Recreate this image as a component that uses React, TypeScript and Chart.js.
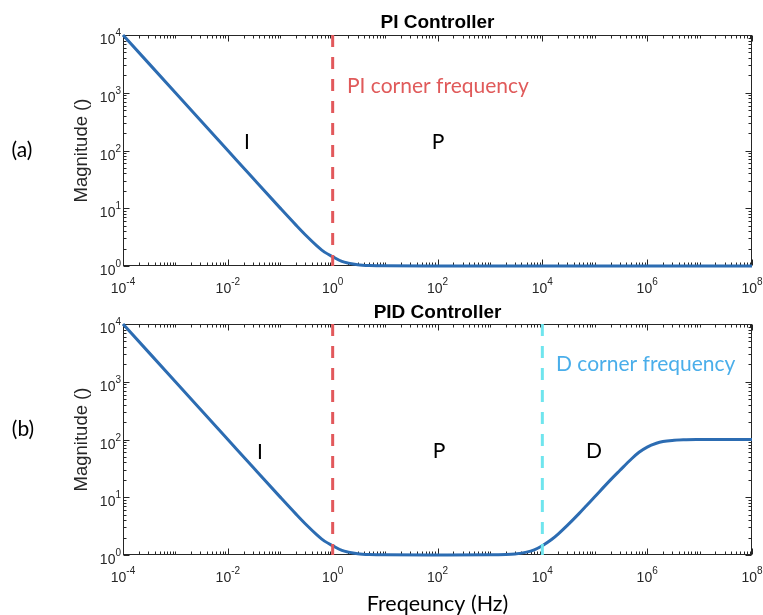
import React, { useEffect, useRef } from "react";
import { Chart, registerables } from "chart.js";

Chart.register(...registerables);

// ---------- data ----------
const FREQ_PI = [1e-4, 1e-3, 1e-2, 3e-2, 0.1, 0.2, 0.3, 0.5, 0.7, 1, 1.5, 2, 3, 5, 10, 100, 1e3, 1e4, 1e5, 1e6, 1e7, 1e8];
const MAG_PI = [10000, 1000, 100, 33.3, 10.05, 5.1, 3.48, 2.24, 1.74, 1.45, 1.2, 1.12, 1.054, 1.02, 1.005, 1.0, 1.0, 1.0, 1.0, 1.0, 1.0, 1.0];

const FREQ_PID = [1e-4, 1e-3, 1e-2, 3e-2, 0.1, 0.2, 0.3, 0.5, 0.7, 1, 1.5, 2, 3, 5, 10, 100, 1e3, 2e3, 3e3, 5e3, 7e3, 1e4, 1.5e4, 2e4, 3e4, 5e4, 7e4, 1e5, 2e5, 3e5, 5e5, 7e5, 1e6, 1.5e6, 2e6, 3e6, 5e6, 1e7, 2e7, 1e8];
const MAG_PID = [10000, 1000, 100, 33.3, 10.05, 5.1, 3.48, 2.24, 1.74, 1.45, 1.2, 1.12, 1.054, 1.02, 1.005, 1.0, 1.005, 1.02, 1.045, 1.12, 1.23, 1.45, 1.85, 2.3, 3.25, 5.2, 7.2, 10.2, 20, 29, 46, 60, 74, 86, 92, 96.5, 98.8, 99.7, 100, 100];

const X_TICKS = [1e-4, 1e-2, 1, 1e2, 1e4, 1e6, 1e8];
const Y_TICKS = [1, 10, 100, 1000, 10000];
const X_MIN = 1e-4;
const X_MAX = 1e8;
const Y_MIN = 1;
const Y_MAX = 1e4;
const PI_CORNER = 1;
const D_CORNER = 1e4;

// ---------- styles ----------
const BLUE = "#2c6cb2";
const RED = "#e2585b";
const CYAN = "#6fe5ee";
const RED_TEXT = "#e05a5a";
const BLUE_TEXT = "#4aaeea";
const AXIS = "#262626";
const HELV = "'Liberation Sans', Arial, Helvetica, sans-serif";
const CAL = "Lato, 'Open Sans', sans-serif";

type TextItem = {
  text: string; x: number; y: number; font: string; color: string;
  align?: CanvasTextAlign; rotate?: boolean;
};

function expOf(v: number): string {
  return String(Math.round(Math.log10(v)));
}

const decorPlugin = {
  id: "decor",
  beforeDatasetsDraw(chart: any) {
    const { ctx, chartArea } = chart;
    const xs = chart.scales.x;
    const ys = chart.scales.y;
    const L = Math.round(chartArea.left) + 0.5;
    const R = Math.round(chartArea.right) - 0.5;
    const T = Math.round(chartArea.top) + 0.5;
    const B = Math.round(chartArea.bottom) - 0.5;
    ctx.save();
    ctx.strokeStyle = AXIS;
    ctx.lineWidth = 1;
    ctx.strokeRect(L, T, R - L, B - T);
    ctx.beginPath();
    for (let d = Math.log10(X_MIN); d <= Math.log10(X_MAX); d++) {
      for (let m = 1; m <= 9; m++) {
        const v = m * Math.pow(10, d);
        if (v > X_MAX * 1.0001) break;
        const px = Math.round(xs.getPixelForValue(v)) + 0.5;
        const len = m === 1 && d % 2 === 0 ? 6 : 3;
        ctx.moveTo(px, B); ctx.lineTo(px, B - len);
        ctx.moveTo(px, T); ctx.lineTo(px, T + len);
      }
    }
    for (let d = Math.log10(Y_MIN); d <= Math.log10(Y_MAX); d++) {
      for (let m = 1; m <= 9; m++) {
        const v = m * Math.pow(10, d);
        if (v > Y_MAX * 1.0001) break;
        const py = Math.round(ys.getPixelForValue(v)) + 0.5;
        const len = m === 1 ? 6 : 3;
        ctx.moveTo(L, py); ctx.lineTo(L + len, py);
        ctx.moveTo(R, py); ctx.lineTo(R - len, py);
      }
    }
    ctx.stroke();
    ctx.restore();
  },
  afterDraw(chart: any, _args: any, opts: any) {
    const { ctx, chartArea } = chart;
    const xs = chart.scales.x;
    const ys = chart.scales.y;
    const baseFont = `14px ${HELV}`;
    const expFont = `10px ${HELV}`;
    ctx.save();
    ctx.fillStyle = AXIS;
    ctx.textBaseline = "alphabetic";
    // y tick labels
    for (const v of Y_TICKS) {
      const py = ys.getPixelForValue(v);
      const e = expOf(v);
      ctx.font = expFont;
      const ew = ctx.measureText(e).width;
      const xEnd = chartArea.left - 2;
      ctx.textAlign = "left";
      ctx.fillText(e, xEnd - ew, py + 1);
      ctx.font = baseFont;
      ctx.textAlign = "right";
      ctx.fillText("10", xEnd - ew, py + 9);
    }
    // x tick labels
    for (const v of X_TICKS) {
      const px = xs.getPixelForValue(v);
      const e = expOf(v);
      ctx.font = expFont;
      const ew = ctx.measureText(e).width;
      ctx.font = baseFont;
      const bw = ctx.measureText("10").width;
      const start = px - (bw + ew) / 2;
      ctx.textAlign = "left";
      ctx.fillText("10", start, chartArea.bottom + 27);
      ctx.font = expFont;
      ctx.fillText(e, start + bw, chartArea.bottom + 19);
    }
    // texts
    const items: TextItem[] = opts.texts || [];
    for (const t of items) {
      ctx.font = t.font;
      ctx.fillStyle = t.color;
      ctx.textAlign = t.align || "center";
      if (t.rotate) {
        ctx.save();
        ctx.translate(t.x, t.y);
        ctx.rotate(-Math.PI / 2);
        ctx.fillText(t.text, 0, 0);
        ctx.restore();
      } else {
        ctx.fillText(t.text, t.x, t.y);
      }
    }
    ctx.restore();
  },
};

function makeConfig(
  freq: number[], mag: number[], corners: { x: number; color: string }[],
  texts: TextItem[], padTop: number, xHeight: number
): any {
  const dashSets = corners.map((c) => ({
    data: [{ x: c.x, y: Y_MAX }, { x: c.x, y: Y_MIN }],
    borderColor: c.color,
    borderWidth: 3,
    borderDash: [12, 10],
    pointRadius: 0,
    clip: false,
  }));
  return {
    type: "line",
    data: {
      datasets: [
        ...dashSets,
        {
          data: freq.map((f, i) => ({ x: f, y: mag[i] })),
          borderColor: BLUE,
          borderWidth: 3,
          pointRadius: 0,
          cubicInterpolationMode: "monotone",
          clip: false,
        },
      ],
    },
    options: {
      responsive: false,
      animation: false,
      events: [],
      layout: { padding: { left: 0, right: 11, top: padTop, bottom: 0 } },
      plugins: {
        legend: { display: false },
        tooltip: { enabled: false },
        title: { display: false },
        decor: { texts },
      },
      scales: {
        x: {
          type: "logarithmic",
          min: X_MIN,
          max: X_MAX,
          grid: { display: false, drawTicks: false },
          border: { display: false },
          afterBuildTicks: (s: any) => { s.ticks = X_TICKS.map((v) => ({ value: v })); },
          afterFit: (s: any) => { s.height = xHeight; s.paddingLeft = 0; s.paddingRight = 0; },
          ticks: { display: false },
        },
        y: {
          type: "logarithmic",
          min: Y_MIN,
          max: Y_MAX,
          grid: { display: false, drawTicks: false },
          border: { display: false },
          afterBuildTicks: (s: any) => { s.ticks = Y_TICKS.map((v) => ({ value: v })); },
          afterFit: (s: any) => { s.width = 123; s.paddingTop = 0; s.paddingBottom = 0; },
          ticks: { display: false },
        },
      },
    },
    plugins: [decorPlugin],
  };
}

const TOP_H = 298;
const BOT_H = 317;

export default function App() {
  const topRef = useRef<HTMLCanvasElement | null>(null);
  const botRef = useRef<HTMLCanvasElement | null>(null);

  useEffect(() => {
    const annFont = `21px ${CAL}`;
    const titleFont = `bold 19px ${HELV}`;
    const ylabFont = `18.5px ${HELV}`;
    const topTexts: TextItem[] = [
      { text: "PI Controller", x: 437.5, y: 28, font: titleFont, color: "#000" },
      { text: "Magnitude ()", x: 87, y: 150.5, font: ylabFont, color: AXIS, rotate: true },
      { text: "(a)", x: 22, y: 157, font: `21px ${CAL}`, color: "#000" },
      { text: "PI corner frequency", x: 347, y: 93, font: annFont, color: RED_TEXT, align: "left" },
      { text: "I", x: 247, y: 149, font: annFont, color: "#000" },
      { text: "P", x: 438, y: 149, font: annFont, color: "#000" },
    ];
    const botTexts: TextItem[] = [
      { text: "PID Controller", x: 437.5, y: 20, font: titleFont, color: "#000" },
      { text: "Magnitude ()", x: 87, y: 141.5, font: ylabFont, color: AXIS, rotate: true },
      { text: "(b)", x: 23, y: 138, font: `21px ${CAL}`, color: "#000" },
      { text: "D corner frequency", x: 556, y: 73, font: annFont, color: BLUE_TEXT, align: "left" },
      { text: "I", x: 260, y: 161, font: annFont, color: "#000" },
      { text: "P", x: 439, y: 160, font: annFont, color: "#000" },
      { text: "D", x: 594, y: 160, font: annFont, color: "#000" },
      { text: "Freqeuncy (Hz)", x: 437.5, y: 313, font: `21.5px ${CAL}`, color: "#000" },
    ];
    const c1 = new Chart(
      topRef.current as HTMLCanvasElement,
      makeConfig(FREQ_PI, MAG_PI, [{ x: PI_CORNER, color: RED }], topTexts, 35, TOP_H - 266)
    );
    const c2 = new Chart(
      botRef.current as HTMLCanvasElement,
      makeConfig(
        FREQ_PID, MAG_PID,
        [{ x: PI_CORNER, color: RED }, { x: D_CORNER, color: CYAN }],
        botTexts, 324 - TOP_H, BOT_H - (555 - TOP_H)
      )
    );
    return () => { c1.destroy(); c2.destroy(); };
  }, []);

  return (
    <div style={{ position: "absolute", left: 0, top: 0, width: 763, height: 615, background: "#fff", overflow: "hidden" }}>
      <canvas ref={topRef} width={763} height={TOP_H} style={{ position: "absolute", left: 0, top: 0, width: 763, height: TOP_H }} />
      <canvas ref={botRef} width={763} height={BOT_H} style={{ position: "absolute", left: 0, top: TOP_H, width: 763, height: BOT_H }} />
    </div>
  );
}
